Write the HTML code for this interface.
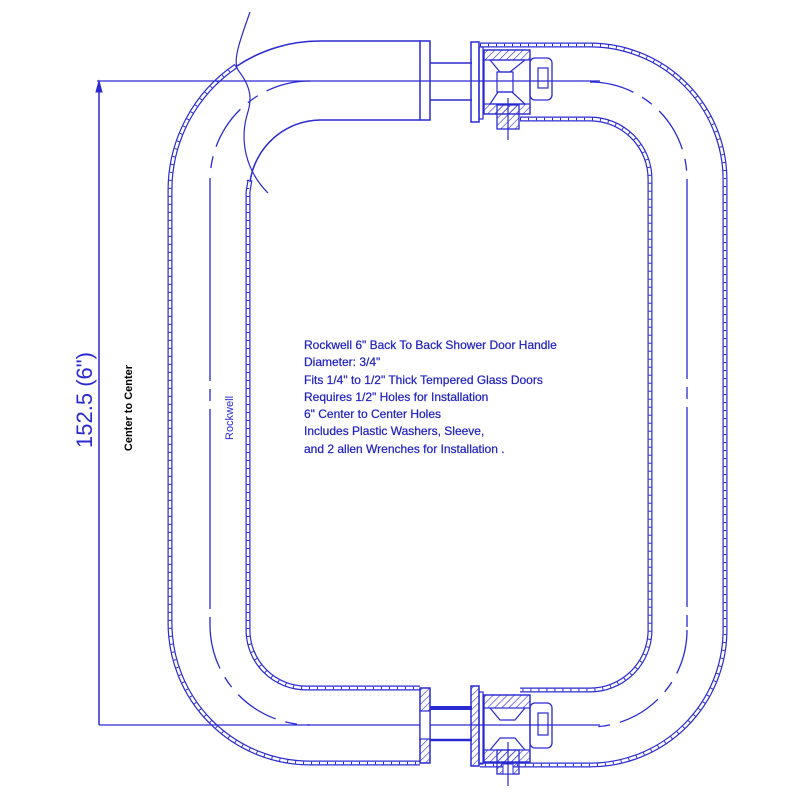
<!DOCTYPE html>
<html><head><style>
html,body{margin:0;padding:0;background:#fff;width:800px;height:800px;overflow:hidden}
svg{display:block}
</style></head><body>
<svg width="800" height="800" viewBox="0 0 800 800" xmlns="http://www.w3.org/2000/svg" font-family="Liberation Sans, sans-serif">
<defs>
<pattern id="h" width="5" height="5" patternUnits="userSpaceOnUse" patternTransform="rotate(45)"><line x1="0" y1="0" x2="0" y2="5" stroke="#2a2ad0" stroke-width="1.2"/></pattern>
</defs>
<g fill="none" stroke="#2a2ad0">
<!-- outer wall left -->
<path d="M236 66 A150 150 0 0 0 170 191 L170 623 A140 140 0 0 0 310 763 L420 763" stroke-width="5"/>
<path d="M236 66 A150 150 0 0 0 170 191 L170 623 A140 140 0 0 0 310 763 L420 763" stroke="#fff" stroke-width="2.6"/>
<path d="M236 66 A150 150 0 0 0 170 191 L170 623 A140 140 0 0 0 310 763 L420 763" stroke-width="2.6" stroke-dasharray="1 7"/>
<path d="M420 41 L320 41 A150 150 0 0 0 237 66" stroke-width="1.5"/>
<!-- inner wall left -->
<path d="M250 180 L248 192 L248 630 A58 58 0 0 0 306 688 L420 688" stroke-width="5"/>
<path d="M250 180 L248 192 L248 630 A58 58 0 0 0 306 688 L420 688" stroke="#fff" stroke-width="2.6"/>
<path d="M248 180 L248 630 A58 58 0 0 0 306 688 L420 688" stroke-width="2.6" stroke-dasharray="1 7"/>
<path d="M420 120 L320 120 A72 72 0 0 0 250 182" stroke-width="1.5"/>
<!-- outer wall right -->
<path d="M480 45 L590 45 A135 135 0 0 1 725 180 L725 630 A135 135 0 0 1 590 765 L480 765" stroke-width="5"/>
<path d="M480 45 L590 45 A135 135 0 0 1 725 180 L725 630 A135 135 0 0 1 590 765 L480 765" stroke="#fff" stroke-width="2.6"/>
<path d="M480 45 L590 45 A135 135 0 0 1 725 180 L725 630 A135 135 0 0 1 590 765 L480 765" stroke-width="2.6" stroke-dasharray="1 7"/>
<!-- inner wall right -->
<path d="M520 119 L590 119 A60 60 0 0 1 650 179 L650 630 A60 60 0 0 1 590 690 L520 690" stroke-width="5"/>
<path d="M520 119 L590 119 A60 60 0 0 1 650 179 L650 630 A60 60 0 0 1 590 690 L520 690" stroke="#fff" stroke-width="2.6"/>
<path d="M520 119 L590 119 A60 60 0 0 1 650 179 L650 630 A60 60 0 0 1 590 690 L520 690" stroke-width="2.6" stroke-dasharray="1 7"/>
<!-- centerlines -->
<path d="M310 81 A100 100 0 0 0 210 181" stroke-width="1.3" stroke-dasharray="45 10 12 10"/>
<path d="M210 625 A100 100 0 0 0 310 725" stroke-width="1.3" stroke-dasharray="45 10 12 10"/>
<line x1="210" y1="181" x2="210" y2="625" stroke-width="1.3" stroke-dasharray="200 8 12 8"/>
<path d="M590 82 A97 97 0 0 1 687 179" stroke-width="1.3" stroke-dasharray="45 10 12 10"/>
<path d="M687 630 A97 97 0 0 1 590 727" stroke-width="1.3" stroke-dasharray="45 10 12 10"/>
<line x1="687" y1="179" x2="687" y2="630" stroke-width="1.3" stroke-dasharray="200 8 12 8"/>
<line x1="97" y1="81" x2="600" y2="81" stroke-width="1.3"/>
<line x1="99" y1="725" x2="600" y2="725" stroke-width="1.3"/>
<line x1="99" y1="85" x2="99" y2="725" stroke-width="1.5"/>
<path d="M99 81 L96 92 L102 92 Z" fill="#2a2ad0"/>
<!-- freehand break -->
<path d="M250 12 C242 35 232 60 238 70 C252 88 252 100 247 115 C240 140 245 170 268 193" stroke-width="1.2"/>
<!-- top fitting -->
<rect x="420" y="41" width="10" height="79" stroke-width="1.5"/>
<line x1="430" y1="63" x2="472" y2="63" stroke-width="1.5"/>
<line x1="430" y1="100" x2="472" y2="100" stroke-width="1.5"/>
<rect x="471" y="42" width="8" height="80" stroke-width="1.5"/>
<rect x="479" y="47" width="4" height="72" stroke-width="1.2"/>
<rect x="484" y="50" width="46" height="10" fill="url(#h)" stroke-width="1.2"/>
<rect x="484" y="104" width="46" height="10" fill="url(#h)" stroke-width="1.2"/>
<rect x="484" y="50" width="46" height="64" stroke-width="1.3"/>
<path d="M490 60 L525 60 L510 72 L500 72 Z M490 104 L525 104 L512 92 L498 92 Z" stroke-width="1.2"/>
<rect x="497" y="72" width="16" height="20" stroke-width="1.2"/>
<rect x="530" y="58" width="22" height="42" rx="5" stroke-width="1.3"/>
<rect x="538" y="68" width="10" height="20" stroke-width="1.2"/>
<rect x="497" y="105" width="22" height="24" fill="url(#h)" stroke-width="1.3"/>
<line x1="508" y1="98" x2="508" y2="140" stroke-width="1.2"/>
<!-- bottom fitting -->
<rect x="420" y="688" width="10" height="75" fill="url(#h)" stroke-width="1.5"/>
<rect x="420" y="711" width="10" height="28" fill="#fff" stroke-width="1.2"/>
<line x1="430" y1="708" x2="472" y2="708" stroke-width="4"/>
<line x1="430" y1="740" x2="472" y2="740" stroke-width="2.5"/>
<rect x="471" y="686" width="8" height="80" fill="url(#h)" stroke-width="1.5"/>
<rect x="479" y="692" width="4" height="72" stroke-width="1.2"/>
<rect x="484" y="695" width="46" height="13" fill="url(#h)" stroke-width="1.2"/>
<rect x="484" y="750" width="46" height="12" fill="url(#h)" stroke-width="1.2"/>
<rect x="484" y="695" width="46" height="67" stroke-width="1.3"/>
<path d="M490 708 L500 720 L515 720 L525 708 M490 750 L500 738 L515 738 L525 750" stroke-width="1.2"/>
<rect x="530" y="703" width="22" height="45" rx="5" stroke-width="1.3"/>
<rect x="538" y="713" width="10" height="22" stroke-width="1.2"/>
<rect x="497" y="750" width="22" height="24" fill="url(#h)" stroke-width="1.3"/>
<rect x="503" y="764" width="10" height="10" fill="#fff" stroke-width="1"/>
<line x1="508" y1="742" x2="508" y2="786" stroke-width="1.2"/>
</g>
<text transform="translate(92,400) rotate(-90)" text-anchor="middle" font-size="22" fill="#2a2ad0">152.5 (6")</text>
<text transform="translate(132,408) rotate(-90)" text-anchor="middle" font-size="11" font-weight="bold" fill="#000">Center to Center</text>
<text transform="translate(233,418) rotate(-90)" text-anchor="middle" font-size="11" fill="#2a2ad0">Rockwell</text>
<g font-size="12" fill="#2525c0" stroke="#2525c0" stroke-width="0.25">
<text x="304" y="349">Rockwell 6" Back To Back Shower Door Handle</text>
<text x="304" y="366">Diameter: 3/4"</text>
<text x="304" y="384">Fits 1/4" to 1/2" Thick Tempered Glass Doors</text>
<text x="304" y="401">Requires 1/2" Holes for Installation</text>
<text x="304" y="418">6" Center to Center Holes</text>
<text x="304" y="435">Includes Plastic Washers, Sleeve,</text>
<text x="304" y="453">and 2 allen Wrenches for Installation .</text>
</g>
</svg>
</body></html>
